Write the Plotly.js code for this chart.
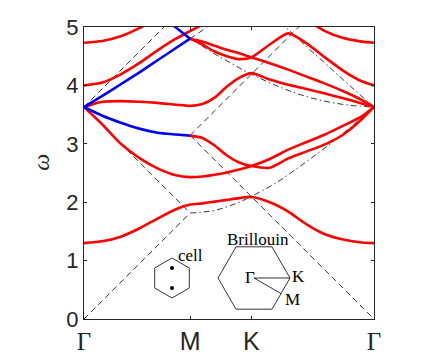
<!DOCTYPE html>
<html>
<head>
<meta charset="utf-8">
<script src="https://cdn.plot.ly/plotly-3.0.1.min.js"></script>
<style>
  html, body { margin: 0; padding: 0; background: white; }
</style>
</head>
<body>
<div id="bands"></div>
<script>
// k-path: Γ -> M -> K -> Γ (path length, hexagonal lattice)
const kTicks = [0, 0.866, 1.366, 2.366];
const kLabels = ['<span style="font-family:Liberation Serif">Γ</span>', 'M', 'K',
                 '<span style="font-family:Liberation Serif">Γ</span>'];
const wTicks = [0, 1, 2, 3, 4, 5];

// sample points along the path
const kGrid = [0, 0.15, 0.3, 0.45, 0.6, 0.75, 0.866,
               0.966, 1.066, 1.166, 1.266, 1.366,
               1.516, 1.666, 1.816, 1.966, 2.116, 2.266, 2.366];

// red bands
const bandA = [1.30, 1.33, 1.41, 1.55, 1.72, 1.88, 1.96, 1.98, 2.01, 2.04, 2.07, 2.09, 2.00, 1.84, 1.62, 1.45, 1.36, 1.31, 1.30];
const bandB = [3.63, 3.33, 3.00, 2.76, 2.58, 2.46, 2.43, 2.44, 2.47, 2.51, 2.56, 2.62, 2.74, 2.90, 3.03, 3.16, 3.31, 3.47, 3.63];
const bandC = [3.63, 3.48, 3.36, 3.26, 3.19, 3.16, 3.14, 3.10, 2.97, 2.80, 2.68, 2.62, 2.59, 2.75, 2.87, 2.99, 3.16, 3.42, 3.63];
const bandD = [3.63, 3.72, 3.73, 3.72, 3.70, 3.67, 3.65, 3.68, 3.79, 3.98, 4.13, 4.21, 4.10, 4.01, 3.94, 3.86, 3.78, 3.69, 3.63];
const bandE = [4.00, 4.05, 4.19, 4.38, 4.60, 4.80, 4.93, 5.04];            // Γ .. just past M
const bandG1 = [4.73, 4.76, 4.84, 4.98, 5.15];                             // Γ .. 0.6
const bandG2 = [5.12, 4.93, 4.81, 4.75, 4.73];                             // 1.816 .. Γ
const bandF = [4.80, 4.70, 4.58, 4.50, 4.45, 4.48, 4.70, 4.89, 4.72, 4.48, 4.25, 4.07, 4.00]; // M .. Γ
const bandH = [4.80, 4.75, 4.68, 4.61, 4.55, 4.48, 4.38, 4.27, 4.15, 4.03, 3.90, 3.75, 3.63]; // M .. Γ
// blue bands (Γ -> M)
const blueUp = [3.63, 3.82, 4.02, 4.22, 4.43, 4.64, 4.80];
const blueTop = [5.24, 4.99, 4.80];                                        // 0.6 .. M

// folded light lines
const dashK = [0, 0.866, null, 0, 0.866, null, 0, 0.653, null, 0.866, 2.366, null, 0.866, 1.751, null, 0.866, 0.936, 1.006];
const dashW = [0, 1.815, null, 3.63, 1.815, null, 3.63, 5.0, null, 3.144, 0, null, 3.144, 5.0, null, 4.80, 4.90, 5.0];
const dotK1 = [0.866, 0.966, 1.066, 1.166, 1.266, 1.366, 1.566, 1.766, 1.966, 2.166, 2.366];
const dotW1 = [1.815, 1.83, 1.86, 1.92, 2.00, 2.10, 2.33, 2.62, 2.93, 3.27, 3.63];
const dotK2 = [0.866, 0.966, 1.066, 1.166, 1.266, 1.366, 1.566, 1.766, 1.966, 2.166, 2.366];
const dotW2 = [4.80, 4.67, 4.54, 4.42, 4.30, 4.19, 4.00, 3.84, 3.73, 3.66, 3.63];
const dotK3 = [1.6, 1.766, 1.966, 2.166, 2.366];
const dotW3 = [5.09, 4.76, 4.38, 4.00, 3.63];

// inset hexagons (unit size)
const cellHexX = [0, 0.866, 0.866, 0, -0.866, -0.866, 0];
const cellHexY = [1, 0.5, -0.5, -1, -0.5, 0.5, 1];
const cellDotX = [0, 0];
const cellDotY = [0.5, -0.5];
const bzHexX = [1, 0.5, -0.5, -1, -0.5, 0.5, 1];
const bzHexY = [0, 0.866, 0.866, 0, -0.866, -0.866, 0];
const bzPathX = [1, 0, 0.75];
const bzPathY = [0, 0, -0.433];

const red = '#ff0000', blue = '#0000ff', ink = '#262626';

function band(x, y, color) {
    return { x: x, y: y, mode: 'lines', type: 'scatter', hoverinfo: 'skip',
             line: { color: color, width: 2.6, shape: 'spline', smoothing: 0.65 } };
}
function light(x, y, dash, spline) {
    return { x: x, y: y, mode: 'lines', type: 'scatter', hoverinfo: 'skip', connectgaps: false,
             line: { color: '#000', width: 0.8, dash: dash, shape: spline ? 'spline' : 'linear' } };
}

const dashed = '6px,4px';
const dashdot = '6px,3px,1.5px,3px';

const traces = [
    light(dashK, dashW, dashed, false),
    light(dotK1, dotW1, dashdot, true),
    light(dotK2, dotW2, dashdot, true),
    light(dotK3, dotW3, dashdot, true),
    band(kGrid, bandA, red),
    band(kGrid, bandB, red),
    band(kGrid.slice(6), bandC.slice(6), red),
    band(kGrid, bandD, red),
    band(kGrid.slice(0, 8), bandE, red),
    band(kGrid.slice(0, 5), bandG1, red),
    band(kGrid.slice(14), bandG2, red),
    band(kGrid.slice(6), bandF, red),
    band(kGrid.slice(6), bandH, red),
    band(kGrid.slice(0, 7), bandC.slice(0, 7), blue),
    band(kGrid.slice(0, 7), blueUp, blue),
    band(kGrid.slice(4, 7), blueTop, blue),
    // insets
    { x: cellHexX, y: cellHexY, xaxis: 'x2', yaxis: 'y2', mode: 'lines', hoverinfo: 'skip',
      line: { color: '#000', width: 0.8 } },
    { x: cellDotX, y: cellDotY, xaxis: 'x2', yaxis: 'y2', mode: 'markers', hoverinfo: 'skip',
      marker: { color: '#000', size: 4 } },
    { x: bzHexX, y: bzHexY, xaxis: 'x3', yaxis: 'y3', mode: 'lines', hoverinfo: 'skip',
      line: { color: '#000', width: 0.8 } },
    { x: bzPathX, y: bzPathY, xaxis: 'x3', yaxis: 'y3', mode: 'lines', hoverinfo: 'skip',
      line: { color: '#000', width: 0.8 } }
];

const serif = { family: 'Liberation Serif, DejaVu Serif, serif', size: 17, color: '#000' };
const hidden = { visible: false, fixedrange: true };

const layout = {
    width: 444,
    height: 359,
    margin: { l: 84, r: 70, t: 27, b: 40 },
    paper_bgcolor: 'white',
    plot_bgcolor: 'rgba(0,0,0,0)',
    showlegend: false,
    xaxis: {
        range: [0, 2.366], tickvals: kTicks, ticktext: kLabels,
        ticks: 'inside', ticklen: 3, tickcolor: ink, tickwidth: 1,
        showline: true, linecolor: ink, linewidth: 1, mirror: 'ticks',
        showgrid: false, zeroline: false,
        tickfont: { family: 'Liberation Sans, Arial, sans-serif', size: 25, color: ink }
    },
    yaxis: {
        range: [0, 5], tickvals: wTicks,
        ticks: 'inside', ticklen: 3, tickcolor: ink, tickwidth: 1,
        showline: true, linecolor: ink, linewidth: 1, mirror: 'ticks',
        showgrid: false, zeroline: false,
        tickfont: { family: 'Liberation Sans, Arial, sans-serif', size: 22, color: ink }
    },
    xaxis2: Object.assign({ domain: [0.2, 0.4069], range: [-1.5, 1.5], anchor: 'y2' }, hidden),
    yaxis2: Object.assign({ domain: [0.0377, 0.2432], range: [-1.5, 1.5], anchor: 'x2' }, hidden),
    xaxis3: Object.assign({ domain: [0.4, 0.7724], range: [-1.5, 1.5], anchor: 'y3' }, hidden),
    yaxis3: Object.assign({ domain: [0, 0.3007], range: [-1.139, 1.3], anchor: 'x3' }, hidden),
    annotations: [
        { xref: 'paper', yref: 'paper', x: -0.148, y: 0.535, text: '<i>ω</i>', textangle: -90,
          showarrow: false, xanchor: 'center', yanchor: 'middle',
          font: { family: 'Liberation Serif, DejaVu Serif, serif', size: 24, color: ink } },
        { xref: 'x2', yref: 'y2', x: 0.93, y: 1.1, text: 'cell', showarrow: false, font: serif },
        { xref: 'x3', yref: 'y3', x: 0.1, y: 1.08, text: 'Brillouin', showarrow: false, font: serif },
        { xref: 'x3', yref: 'y3', x: -0.125, y: 0.01, text: 'Γ', showarrow: false, font: serif },
        { xref: 'x3', yref: 'y3', x: 1.24, y: 0.03, text: 'K', showarrow: false, font: serif },
        { xref: 'x3', yref: 'y3', x: 1.08, y: -0.61, text: 'M', showarrow: false, font: serif }
    ]
};

Plotly.newPlot('bands', traces, layout, { staticPlot: true, displayModeBar: false });
</script>
</body>
</html>
